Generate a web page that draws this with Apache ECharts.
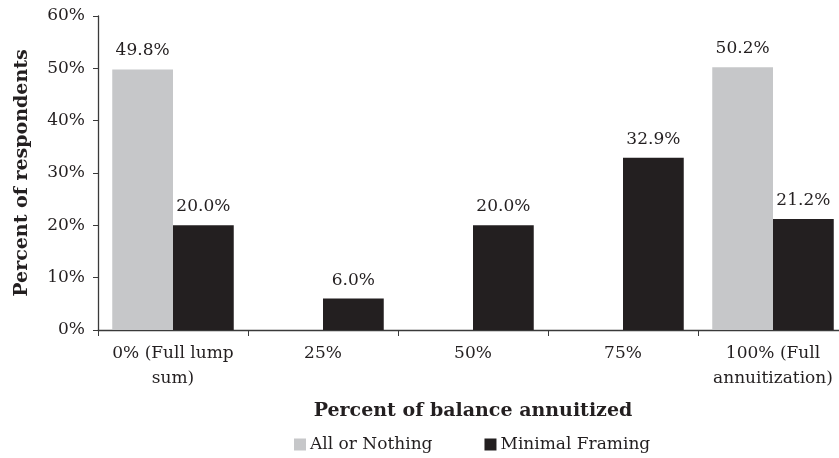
<!DOCTYPE html>
<html>
<head>
<meta charset="utf-8">
<script src="https://cdn.jsdelivr.net/npm/echarts@6/dist/echarts.min.js"></script>
<style>html,body{margin:0;padding:0;background:#fff}#c{width:839px;height:458px}</style>
</head>
<body>
<div id="c"></div>
<script>
var categories = ['0% (Full lump\nsum)', '25%', '50%', '75%', '100% (Full\nannuitization)'];
var allOrNothing = [49.8, null, null, null, 50.2];
var minimalFraming = [20.0, 6.0, 20.0, 32.9, 21.2];
var seriesNames = ['All or Nothing', 'Minimal Framing'];
var yTicks = { min: 0, max: 60, interval: 10 };

var FONT = 'DejaVu Serif';
var TXT = '#231f20';
var chart = echarts.init(document.getElementById('c'));
var lbl = {
  show: true, position: 'top', distance: 10, color: TXT, fontFamily: FONT, fontSize: 17,
  formatter: function (p) { return p.value == null ? '' : p.value.toFixed(1) + '%'; }
};
chart.setOption({
  animation: false,
  grid: { left: 98, right: -9, top: 16, bottom: 128, containLabel: false, outerBoundsMode: 'none' },
  legend: {
    bottom: 0, left: 289, itemWidth: 12, itemHeight: 12, itemGap: 52,
    icon: 'rect',
    textStyle: { fontFamily: FONT, fontSize: 17, color: TXT, padding: [0, 0, 0, -1] },
    data: seriesNames
  },
  xAxis: {
    type: 'category', data: categories,
    name: 'Percent of balance annuitized', nameLocation: 'middle', nameGap: 72,
    nameTextStyle: { fontFamily: FONT, fontSize: 19, fontWeight: 'bold', color: TXT },
    axisLine: { lineStyle: { color: '#3a3a3a', width: 1.3 } },
    axisTick: { show: true, length: 6, lineStyle: { color: '#3a3a3a' } },
    axisLabel: { fontFamily: FONT, fontSize: 17, color: TXT, margin: 11, lineHeight: 25, interval: 0 }
  },
  yAxis: {
    type: 'value', min: yTicks.min, max: yTicks.max, interval: yTicks.interval,
    name: 'Percent of respondents', nameLocation: 'middle', nameGap: 66, nameRotate: 90,
    nameTextStyle: { fontFamily: FONT, fontSize: 19, fontWeight: 'bold', color: TXT },
    axisLine: { show: true, lineStyle: { color: '#3a3a3a', width: 1.3 } },
    axisTick: { show: true, length: 5, lineStyle: { color: '#3a3a3a' } },
    splitLine: { show: false },
    axisLabel: { fontFamily: FONT, fontSize: 17, color: TXT, margin: 13, formatter: '{value}%' }
  },
  series: [
    { name: seriesNames[0], type: 'bar', data: allOrNothing, barGap: '0%', barCategoryGap: '19%',
      itemStyle: { color: '#c6c7c9' }, label: lbl },
    { name: seriesNames[1], type: 'bar', data: minimalFraming, barGap: '0%', barCategoryGap: '19%',
      itemStyle: { color: '#231f20' }, label: lbl }
  ]
});
</script>
</body>
</html>
